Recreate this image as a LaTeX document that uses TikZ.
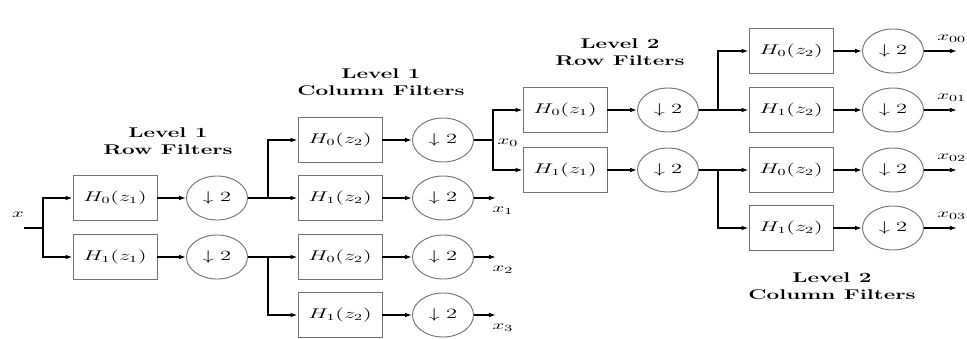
\documentclass[tikz,border=0pt]{standalone}
\usepackage{graphicx}
\usetikzlibrary{shapes.geometric, arrows.meta}
\newcommand{\sx}[1]{\scalebox{1.6}[1]{#1}}

\begin{document}
\begin{tikzpicture}[
		x=0.03cm, y=-0.03cm,
		>={Latex[length=6pt, width=4pt]},
		every node/.style={font=\fontsize{12}{15}\selectfont, align=center},
		box/.style={rectangle, draw=black!55, line width=0.8pt, minimum width=2.52cm, minimum height=1.35cm, inner sep=0pt},
		down/.style={ellipse, draw=black!55, line width=0.8pt, minimum width=1.83cm, minimum height=1.32cm, inner sep=0pt},
		title/.style={font=\fontsize{12}{15}\selectfont\bfseries},
		sig/.style={font=\fontsize{11}{13}\selectfont, inner sep=1pt},
		wire/.style={line width=1.1pt}
	]
	\useasboundingbox (0,0) rectangle (967,339);

	% level 1 row filters
	\node[title] (t1r) at (168,141) {\sx{Level 1}\\\sx{Row Filters}};
	\node[sig] (lx) at (18,215) {\sx{$x$}};
	\coordinate (xin) at (24,228);
	\coordinate (s0) at (43,228);
	\node[box] (rh0) at (115,198) {\sx{$H_0(z_1)$}};
	\node[box] (rh1) at (115,257) {\sx{$H_1(z_1)$}};
	\node[down] (rd0) at (217,198) {\sx{$\downarrow 2$}};
	\node[down] (rd1) at (217,257) {\sx{$\downarrow 2$}};

	% level 1 column filters
	\node[title] (t1c) at (381,82) {\sx{Level 1}\\\sx{Column Filters}};
	\node[box] (ch00) at (340,140) {\sx{$H_0(z_2)$}};
	\node[box] (ch01) at (340,198) {\sx{$H_1(z_2)$}};
	\node[box] (ch10) at (340,257) {\sx{$H_0(z_2)$}};
	\node[box] (ch11) at (340,315) {\sx{$H_1(z_2)$}};
	\node[down] (cd00) at (443,140) {\sx{$\downarrow 2$}};
	\node[down] (cd01) at (443,198) {\sx{$\downarrow 2$}};
	\node[down] (cd10) at (443,257) {\sx{$\downarrow 2$}};
	\node[down] (cd11) at (443,315) {\sx{$\downarrow 2$}};
	\coordinate (b0) at (268,198);
	\coordinate (b1) at (268,257);
	\coordinate (b2) at (493,140);
	\coordinate (o1) at (496,198);
	\coordinate (o2) at (496,257);
	\coordinate (o3) at (496,315);
	\node[sig] (lx0) at (508,143) {\sx{$x_0$}};
	\node[sig] (lx1) at (503,211) {\sx{$x_1$}};
	\node[sig] (lx2) at (503,270) {\sx{$x_2$}};
	\node[sig] (lx3) at (503,328) {\sx{$x_3$}};

	% level 2 row filters
	\node[title] (t2r) at (620,52) {\sx{Level 2}\\\sx{Row Filters}};
	\node[box] (r2h0) at (565,110) {\sx{$H_0(z_1)$}};
	\node[box] (r2h1) at (565,170) {\sx{$H_1(z_1)$}};
	\node[down] (r2d0) at (668,110) {\sx{$\downarrow 2$}};
	\node[down] (r2d1) at (668,170) {\sx{$\downarrow 2$}};
	\coordinate (b3) at (718,110);
	\coordinate (b4) at (718,170);

	% level 2 column filters
	\node[title] (t2c) at (832,286) {\sx{Level 2}\\\sx{Column Filters}};
	\node[box] (c2h00) at (791,51) {\sx{$H_0(z_2)$}};
	\node[box] (c2h01) at (791,110) {\sx{$H_1(z_2)$}};
	\node[box] (c2h10) at (791,170) {\sx{$H_0(z_2)$}};
	\node[box] (c2h11) at (791,228) {\sx{$H_1(z_2)$}};
	\node[down] (c2d00) at (893,51) {\sx{$\downarrow 2$}};
	\node[down] (c2d01) at (893,110) {\sx{$\downarrow 2$}};
	\node[down] (c2d10) at (893,170) {\sx{$\downarrow 2$}};
	\node[down] (c2d11) at (893,228) {\sx{$\downarrow 2$}};
	\coordinate (p0) at (957,51);
	\coordinate (p1) at (957,110);
	\coordinate (p2) at (957,170);
	\coordinate (p3) at (957,228);
	\node[sig, anchor=west] (lx00) at (936,39) {\sx{$x_{00}$}};
	\node[sig, anchor=west] (lx01) at (936,98) {\sx{$x_{01}$}};
	\node[sig, anchor=west] (lx02) at (936,158) {\sx{$x_{02}$}};
	\node[sig, anchor=west] (lx03) at (936,216) {\sx{$x_{03}$}};

	% connectors
	\draw[wire] (xin) -- (s0);
	\draw[wire,->] (s0) |- (rh0);
	\draw[wire,->] (s0) |- (rh1);
	\draw[wire,->] (rh0) -- (rd0);
	\draw[wire,->] (rh1) -- (rd1);
	\draw[wire] (rd0) -- (b0);
	\draw[wire] (rd1) -- (b1);
	\draw[wire,->] (b0) |- (ch00);
	\draw[wire,->] (b0) -- (ch01);
	\draw[wire,->] (b1) -- (ch10);
	\draw[wire,->] (b1) |- (ch11);
	\draw[wire,->] (ch00) -- (cd00);
	\draw[wire,->] (ch01) -- (cd01);
	\draw[wire,->] (ch10) -- (cd10);
	\draw[wire,->] (ch11) -- (cd11);
	\draw[wire] (cd00) -- (b2);
	\draw[wire,->] (cd01) -- (o1);
	\draw[wire,->] (cd10) -- (o2);
	\draw[wire,->] (cd11) -- (o3);
	\draw[wire,->] (b2) |- (r2h0);
	\draw[wire,->] (b2) |- (r2h1);
	\draw[wire,->] (r2h0) -- (r2d0);
	\draw[wire,->] (r2h1) -- (r2d1);
	\draw[wire] (r2d0) -- (b3);
	\draw[wire] (r2d1) -- (b4);
	\draw[wire,->] (b3) |- (c2h00);
	\draw[wire,->] (b3) -- (c2h01);
	\draw[wire,->] (b4) -- (c2h10);
	\draw[wire,->] (b4) |- (c2h11);
	\draw[wire,->] (c2h00) -- (c2d00);
	\draw[wire,->] (c2h01) -- (c2d01);
	\draw[wire,->] (c2h10) -- (c2d10);
	\draw[wire,->] (c2h11) -- (c2d11);
	\draw[wire,->] (c2d00) -- (p0);
	\draw[wire,->] (c2d01) -- (p1);
	\draw[wire,->] (c2d10) -- (p2);
	\draw[wire,->] (c2d11) -- (p3);
\end{tikzpicture}
\end{document}
